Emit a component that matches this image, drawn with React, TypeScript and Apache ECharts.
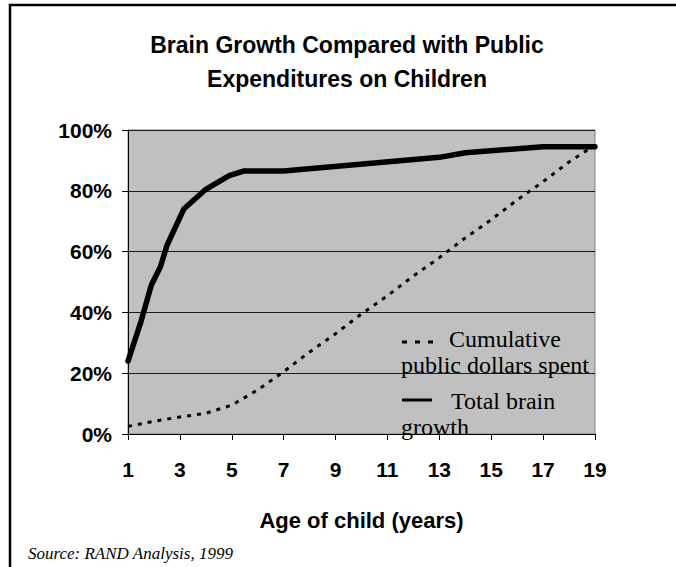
import React, { useEffect, useRef } from "react";
import * as echarts from "echarts";

// Age of child (years) for yearly points
const ages = [1, 2, 3, 4, 5, 6, 7, 8, 9, 10, 11, 12, 13, 14, 15, 16, 17, 18, 19];
// Cumulative public dollars spent (% of total)
const dollarsPct = [2.5, 4.2, 5.6, 6.8, 9.5, 14.5, 20.5, 27, 33, 39.5, 45.5, 52, 58, 64.5, 70.5, 77, 83, 89.5, 95];
// Total brain growth (% of adult), read at these ages
const brainAges = [1, 1.5, 1.9, 2.25, 2.5, 3.15, 4, 4.9, 5.45, 7, 13, 14, 17, 19];
const brainPct = [24, 37, 49, 55, 62, 74, 80.5, 85, 86.5, 86.5, 91, 92.5, 94.5, 94.5];

const xTickLabels = ["1", "3", "5", "7", "9", "11", "13", "15", "17", "19"];
const yTicks = [0, 20, 40, 60, 80, 100];

const titleText = "Brain Growth Compared with Public\nExpenditures on Children";
const xName = "Age of child (years)";
const sourceText = "Source: RAND Analysis, 1999";
const legendDollars = ["Cumulative", "public dollars spent"];
const legendBrain = ["Total brain", "growth"];

const AGE0 = ages[0];

export default function App() {
  const ref = useRef<HTMLDivElement>(null);
  useEffect(() => {
    if (!ref.current) return;
    const chart = echarts.init(ref.current, undefined, { renderer: "svg" });
    const sans = '"Liberation Sans", Arial, sans-serif';
    const serif = '"Liberation Serif", "Times New Roman", serif';
    chart.setOption({
      animation: false,
      backgroundColor: "#ffffff",
      grid: {
        left: 128,
        right: 81,
        top: 130,
        bottom: 133,
        show: true,
        backgroundColor: "#c0c0c0",
        borderColor: "#808080",
        borderWidth: 1,
      },
      xAxis: {
        type: "value",
        min: 0,
        max: ages[ages.length - 1] - AGE0,
        interval: 2,
        name: xName,
        nameLocation: "middle",
        nameGap: 75,
        nameTextStyle: { fontFamily: sans, fontWeight: "bold", fontSize: 22, color: "#000" },
        axisLine: { show: true, lineStyle: { color: "#000", width: 1 } },
        axisTick: { show: true, length: 6, inside: false, lineStyle: { color: "#000" } },
        axisLabel: {
          margin: 25,
          fontFamily: sans,
          fontWeight: "bold",
          fontSize: 21,
          color: "#000",
          formatter: (v: number) => {
            const s = String(v + AGE0);
            return xTickLabels.includes(s) ? s : "";
          },
        },
        splitLine: { show: false },
      },
      yAxis: {
        type: "value",
        min: yTicks[0],
        max: yTicks[yTicks.length - 1],
        interval: 20,
        axisLine: { show: true, lineStyle: { color: "#000", width: 1 } },
        axisTick: { show: true, length: 6, lineStyle: { color: "#000" } },
        axisLabel: {
          margin: 16,
          fontFamily: sans,
          fontWeight: "bold",
          fontSize: 21,
          color: "#000",
          formatter: (v: number) => `${v}%`,
        },
        splitLine: { show: true, lineStyle: { color: "#1a1a1a", width: 1 } },
      },
      series: [
        {
          name: "Cumulative public dollars spent",
          type: "line",
          showSymbol: false,
          symbol: "none",
          data: ages.map((a, i) => [a - AGE0, dollarsPct[i]]),
          lineStyle: { color: "#000", width: 3, type: [4, 6], cap: "butt" },
          z: 3,
        },
        {
          name: "Total brain growth",
          type: "line",
          showSymbol: false,
          symbol: "none",
          data: brainAges.map((a, i) => [a - AGE0, brainPct[i]]),
          lineStyle: { color: "#000", width: 5.5, cap: "round", join: "round" },
          z: 4,
        },
      ],
      graphic: [
        // outer frame (left and top edges)
        { type: "line", shape: { x1: 10, y1: 4, x2: 10, y2: 567 }, style: { stroke: "#000", lineWidth: 2.5 } },
        { type: "line", shape: { x1: 9, y1: 5, x2: 676, y2: 5 }, style: { stroke: "#000", lineWidth: 2.5 } },
        {
          type: "text",
          x: 347,
          y: 28,
          style: {
            text: titleText,
            textAlign: "center",
            textVerticalAlign: "top",
            font: `bold 23px ${sans}`,
            lineHeight: 34,
            fill: "#000",
          },
        },
        // legend
        {
          type: "line",
          shape: { x1: 402, y1: 342, x2: 436, y2: 342 },
          style: { stroke: "#000", lineWidth: 3, lineDash: [5, 8] },
          z: 10,
        },
        {
          type: "text",
          x: 449,
          y: 339,
          style: { text: legendDollars[0], textVerticalAlign: "middle", font: `24px ${serif}`, fill: "#000" },
          z: 10,
        },
        {
          type: "text",
          x: 401,
          y: 365,
          style: { text: legendDollars[1], textVerticalAlign: "middle", font: `24px ${serif}`, fill: "#000" },
          z: 10,
        },
        {
          type: "line",
          shape: { x1: 402, y1: 400, x2: 432, y2: 400 },
          style: { stroke: "#000", lineWidth: 3 },
          z: 10,
        },
        {
          type: "text",
          x: 451,
          y: 401,
          style: { text: legendBrain[0], textVerticalAlign: "middle", font: `24px ${serif}`, fill: "#000" },
          z: 10,
        },
        {
          type: "text",
          x: 401,
          y: 427,
          style: { text: legendBrain[1], textVerticalAlign: "middle", font: `24px ${serif}`, fill: "#000" },
          z: 10,
        },
        {
          type: "text",
          x: 28,
          y: 553,
          style: { text: sourceText, textVerticalAlign: "middle", font: `italic 17px ${serif}`, fill: "#000" },
        },
      ],
    });
    return () => chart.dispose();
  }, []);
  return (
    <div
      ref={ref}
      style={{ position: "fixed", left: 0, top: 0, width: 676, height: 567, background: "#fff" }}
    />
  );
}
